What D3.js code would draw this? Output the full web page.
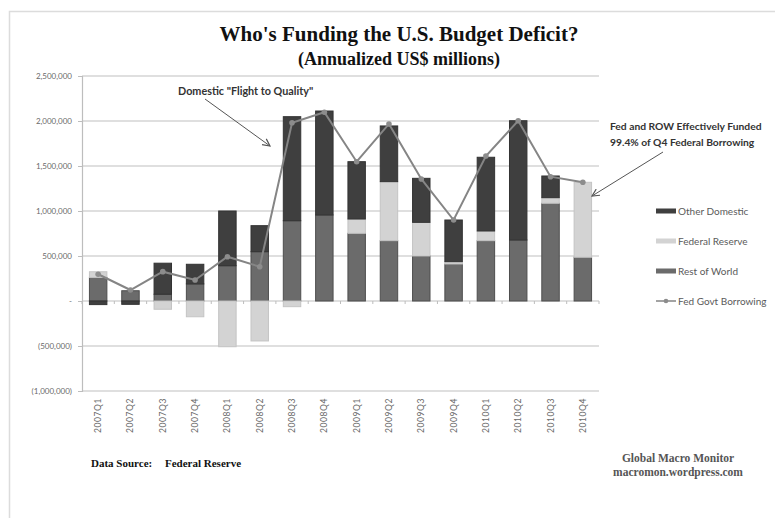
<!DOCTYPE html>
<html>
<head>
<meta charset="utf-8">
<script src="https://cdn.jsdelivr.net/npm/d3@7"></script>
<style>
  body { margin: 0; background: #fff; }
  svg { display: block; }
</style>
</head>
<body>
<div id="chart"></div>
<script>
(function () {
  'use strict';

  var quarters = ['2007Q1', '2007Q2', '2007Q3', '2007Q4', '2008Q1', '2008Q2', '2008Q3', '2008Q4',
    '2009Q1', '2009Q2', '2009Q3', '2009Q4', '2010Q1', '2010Q2', '2010Q3', '2010Q4'];
  var restOfWorld = [262000, 114000, 75000, 190000, 392000, 548000, 892000, 956000,
    752000, 670000, 500000, 411000, 670000, 678000, 1086000, 486000];
  var federalReserve = [63000, 0, -92000, -175000, -508000, -444000, -63000, 0,
    159000, 656000, 374000, 26000, 108000, 0, 62000, 833000];
  var otherDomestic = [-40000, -37000, 345000, 218000, 608000, 289000, 1156000, 1155000,
    637000, 619000, 489000, 463000, 819000, 1325000, 241000, 0];
  var fedBorrowing = [297000, 122000, 326000, 233000, 492000, 381000, 1981000, 2097000,
    1548000, 1967000, 1356000, 900000, 1611000, 2003000, 1381000, 1319000];
  var yTicks = [2500000, 2000000, 1500000, 1000000, 500000, 0, -500000, -1000000];

  const COLORS = {
    OTHER: '#3f3f3f',
    FED: '#d3d3d3',
    ROW: '#6b6b6b',
    LINE: '#858585'
  };

  var width = 775;
  var height = 518;

  var svg = d3.select('#chart').append('svg')
    .attr('width', width)
    .attr('height', height);

  /* frame of the screenshot */
  svg.append('rect')
    .attr('x', 9.5).attr('y', 11.5)
    .attr('width', 900).attr('height', 700)
    .attr('fill', 'none')
    .attr('stroke', '#dcdcdc')
    .attr('stroke-width', 1.5);

  var x = d3.scaleBand()
    .domain(quarters)
    .range([82, 599])
    .paddingInner(0.46)
    .paddingOuter(0.23);

  var y = d3.scaleLinear()
    .domain([-1000000, 2500000])
    .range([391, 76]);

  function fmt(v) {
    if (v === 0) return '-';
    var s = d3.format(',')(Math.abs(v));
    return v < 0 ? '(' + s + ')' : s;
  }

  /* gridlines */
  svg.append('g')
    .selectAll('line')
    .data(yTicks)
    .enter()
    .append('line')
    .attr('x1', 82).attr('x2', 599)
    .attr('y1', function (d) { return y(d); })
    .attr('y2', function (d) { return y(d); })
    .attr('stroke', '#d4d4d4')
    .attr('stroke-width', 1.5);

  var yAxis = svg.append('g')
    .attr('transform', 'translate(82,0)')
    .call(d3.axisLeft(y).tickValues(yTicks).tickFormat(fmt).tickSize(4).tickPadding(6));
  yAxis.select('.domain').attr('stroke', '#bdbdbd').attr('stroke-width', 1.2);
  yAxis.selectAll('.tick line').attr('stroke', '#bdbdbd');
  yAxis.selectAll('text')
    .attr('fill', '#6a6a6a')
    .style('font-family', 'Lato, sans-serif')
    .style('font-size', '8px');

  /* stacked bars */
  var table = quarters.map(function (q, i) {
    return { q: q, row: restOfWorld[i], fed: federalReserve[i], other: otherDomestic[i] };
  });
  var series = d3.stack()
    .keys(['row', 'fed', 'other'])
    .offset(d3.stackOffsetDiverging)(table);
  var fills = { row: COLORS.ROW, fed: COLORS.FED, other: COLORS.OTHER };
  var strokes = { row: '#4e4e4e', fed: '#c4c4c4', other: '#333' };

  svg.append('g')
    .selectAll('g')
    .data(series)
    .enter()
    .append('g')
    .attr('fill', function (s) { return fills[s.key]; })
    .attr('stroke', function (s) { return strokes[s.key]; })
    .selectAll('rect')
    .data(function (s) { return s.filter(function (d) { return d[0] !== d[1]; }); })
    .enter()
    .append('rect')
    .attr('x', function (d) { return x(d.data.q); })
    .attr('width', x.bandwidth())
    .attr('y', function (d) { return y(Math.max(d[0], d[1])); })
    .attr('height', function (d) { return Math.abs(y(d[0]) - y(d[1])); });

  /* category ticks on the zero line */
  var bounds = quarters.map(function (q) { return x(q) - x.step() * x.paddingInner() / 2; });
  bounds.push(599);
  svg.append('g')
    .selectAll('line')
    .data(bounds)
    .enter()
    .append('line')
    .attr('x1', function (d) { return d; })
    .attr('x2', function (d) { return d; })
    .attr('y1', y(0)).attr('y2', y(0) + 3)
    .attr('stroke', '#bdbdbd');

  /* quarter labels */
  svg.append('g')
    .selectAll('text')
    .data(quarters)
    .enter()
    .append('text')
    .attr('transform', function (d) {
      return 'translate(' + (x(d) + x.bandwidth() / 2) + ',398) rotate(-90)';
    })
    .attr('text-anchor', 'end')
    .attr('dy', '0.35em')
    .attr('fill', '#6a6a6a')
    .style('font-family', 'Lato, sans-serif')
    .style('font-size', '8.5px')
    .style('letter-spacing', '0.6px')
    .text(function (d) { return d; });

  /* fed govt borrowing line */
  var line = d3.line()
    .x(function (d, i) { return x(quarters[i]) + x.bandwidth() / 2; })
    .y(function (d) { return y(d); });

  svg.append('path')
    .datum(fedBorrowing)
    .attr('d', line)
    .attr('fill', 'none')
    .attr('stroke', COLORS.LINE)
    .attr('stroke-width', 2);

  svg.append('g')
    .selectAll('circle')
    .data(fedBorrowing)
    .enter()
    .append('circle')
    .attr('cx', function (d, i) { return x(quarters[i]) + x.bandwidth() / 2; })
    .attr('cy', function (d) { return y(d); })
    .attr('r', 2.8)
    .attr('fill', '#8c8c8c');

  /* legend */
  var legendItems = [
    { name: 'Other Domestic', color: COLORS.OTHER, type: 'bar' },
    { name: 'Federal Reserve', color: COLORS.FED, type: 'bar' },
    { name: 'Rest of World', color: COLORS.ROW, type: 'bar' },
    { name: 'Fed Govt Borrowing', color: COLORS.LINE, type: 'line' }
  ];
  var legend = svg.append('g')
    .selectAll('g')
    .data(legendItems)
    .enter()
    .append('g')
    .attr('transform', function (d, i) { return 'translate(656,' + (211 + i * 30) + ')'; });

  legend.filter(function (d) { return d.type === 'bar'; })
    .append('rect')
    .attr('x', 0).attr('y', -2.5)
    .attr('width', 20).attr('height', 5)
    .attr('fill', function (d) { return d.color; });
  legend.filter(function (d) { return d.type === 'line'; })
    .append('line')
    .attr('x1', 0).attr('x2', 20)
    .attr('stroke', function (d) { return d.color; })
    .attr('stroke-width', 1.5);
  legend.filter(function (d) { return d.type === 'line'; })
    .append('circle')
    .attr('cx', 10).attr('r', 2.3)
    .attr('fill', '#8c8c8c');
  legend.append('text')
    .attr('x', 22)
    .attr('dy', '0.35em')
    .attr('fill', '#5a5a5a')
    .style('font-family', 'Lato, sans-serif')
    .style('font-size', '10px')
    .text(function (d) { return d.name; });

  /* titles */
  svg.append('text')
    .attr('x', 399).attr('y', 41)
    .attr('text-anchor', 'middle')
    .attr('fill', '#111')
    .style('font-family', '"Liberation Serif", serif')
    .style('font-weight', 'bold')
    .style('font-size', '21px')
    .text("Who's Funding the U.S. Budget Deficit?");
  svg.append('text')
    .attr('x', 399).attr('y', 65)
    .attr('text-anchor', 'middle')
    .attr('fill', '#111')
    .style('font-family', '"Liberation Serif", serif')
    .style('font-weight', 'bold')
    .style('font-size', '18px')
    .text('(Annualized US$ millions)');

  /* annotations */
  var defs = svg.append('defs');
  defs.append('marker')
    .attr('id', 'arrow')
    .attr('viewBox', '0 0 10 10')
    .attr('refX', 9).attr('refY', 5)
    .attr('markerWidth', 9).attr('markerHeight', 9)
    .attr('orient', 'auto')
    .append('path')
    .attr('d', 'M1,1 L9,5 L1,9')
    .attr('fill', 'none')
    .attr('stroke', '#555')
    .attr('stroke-width', 1.3);

  var notes = [
    { lines: ['Domestic "Flight to Quality"'], x: 178, y: 95, size: 10.8, from: [205, 99], to: [270, 146] },
    { lines: ['Fed and ROW Effectively Funded', '99.4% of Q4 Federal Borrowing'], x: 610, y: 130, size: 10.3, from: [663, 152], to: [592, 196] }
  ];
  notes.forEach(function (n) {
    n.lines.forEach(function (t, i) {
      svg.append('text')
        .attr('x', n.x).attr('y', n.y + i * 15.5)
        .attr('fill', '#333')
        .style('font-family', 'Lato, sans-serif')
        .style('font-weight', 'bold')
        .style('font-size', n.size + 'px')
        .text(t);
    });
    svg.append('line')
      .attr('x1', n.from[0]).attr('y1', n.from[1])
      .attr('x2', n.to[0]).attr('y2', n.to[1])
      .attr('stroke', '#555')
      .attr('stroke-width', 1)
      .attr('marker-end', 'url(#arrow)');
  });

  /* footer */
  var serif = '"Liberation Serif", serif';
  svg.append('text').attr('x', 91).attr('y', 467)
    .attr('fill', '#111').style('font-family', serif).style('font-weight', 'bold').style('font-size', '11px')
    .text('Data Source:');
  svg.append('text').attr('x', 165).attr('y', 467)
    .attr('fill', '#111').style('font-family', serif).style('font-weight', 'bold').style('font-size', '11px')
    .text('Federal Reserve');
  svg.append('text').attr('x', 678).attr('y', 462)
    .attr('text-anchor', 'middle')
    .attr('fill', '#555').style('font-family', serif).style('font-weight', 'bold').style('font-size', '11.5px')
    .text('Global Macro Monitor');
  svg.append('text').attr('x', 678).attr('y', 476)
    .attr('text-anchor', 'middle')
    .attr('fill', '#555').style('font-family', serif).style('font-weight', 'bold').style('font-size', '11.5px')
    .text('macromon.wordpress.com');
}());
</script>
</body>
</html>
